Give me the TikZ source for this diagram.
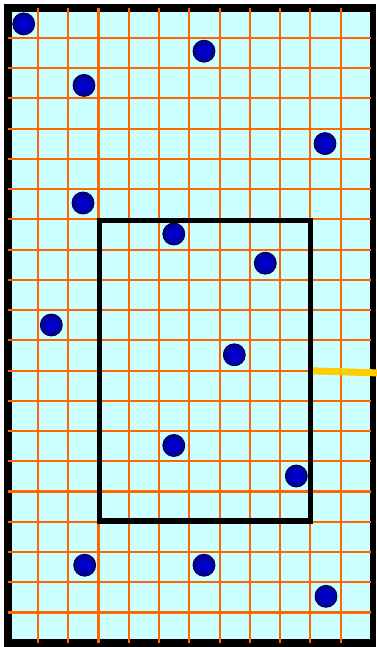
\documentclass[tikz,border=0pt]{standalone}
\usetikzlibrary{calc}
\definecolor{cyanbg}{HTML}{CCFFFF}
\definecolor{gridor}{HTML}{FF6600}
\definecolor{yel}{HTML}{FFCC00}
\definecolor{dotc}{HTML}{0000CC}
\definecolor{dotm}{HTML}{000090}
\definecolor{dote}{HTML}{000040}
\pgfdeclareradialshading{dotshade}{\pgfpoint{0bp}{0bp}}{color(0bp)=(dotc); color(8bp)=(dotc); color(26bp)=(dotm); color(36bp)=(dote); color(50bp)=(dote)}
\tikzset{
  gridline/.style={gridor, line width=2.1pt},
  dot/.style={circle, inner sep=0pt, minimum size=22pt, shading=dotshade, draw=dote, line width=0.8pt},
  winbox/.style={draw=black, line width=5.5pt, inner sep=0pt, minimum width=211pt, minimum height=300.3pt},
  yline/.style={yel, line width=7pt}
}
\begin{document}
\begin{tikzpicture}[x=1pt,y=-1pt]
\useasboundingbox (0,0) rectangle (376,647);
\fill[white] (0,0) rectangle (376,647);
\fill[black] (4,4) rectangle (376,647);
\fill[cyanbg] (12,12) rectangle (370,639);
\foreach \k in {1,...,11} {
  \draw[gridline] ({7.7+30.27*\k},8) -- ({7.7+30.27*\k},643);
}
\foreach \k in {1,...,20} {
  \draw[gridline] (8,{7.7+30.24*\k}) -- (371,{7.7+30.24*\k});
}
\node[winbox] (win) at (204.8,370.85) {};
\coordinate (ext) at (377,372.9);
\draw[yline] (win.east) -- (ext);
\node[dot] (d1) at (23.7,23.9) {};
\node[dot] (d2) at (204,51.2) {};
\node[dot] (d3) at (84,85.4) {};
\node[dot] (d4) at (325,143.6) {};
\node[dot] (d5) at (83,203) {};
\node[dot] (d6) at (173.8,234) {};
\node[dot] (d7) at (265.3,263.2) {};
\node[dot] (d8) at (51.3,325) {};
\node[dot] (d9) at (234.3,354.8) {};
\node[dot] (d10) at (173.8,445.5) {};
\node[dot] (d11) at (296.3,476) {};
\node[dot] (d12) at (84.7,565.2) {};
\node[dot] (d13) at (204,565.2) {};
\node[dot] (d14) at (326,596.3) {};
\end{tikzpicture}
\end{document}
